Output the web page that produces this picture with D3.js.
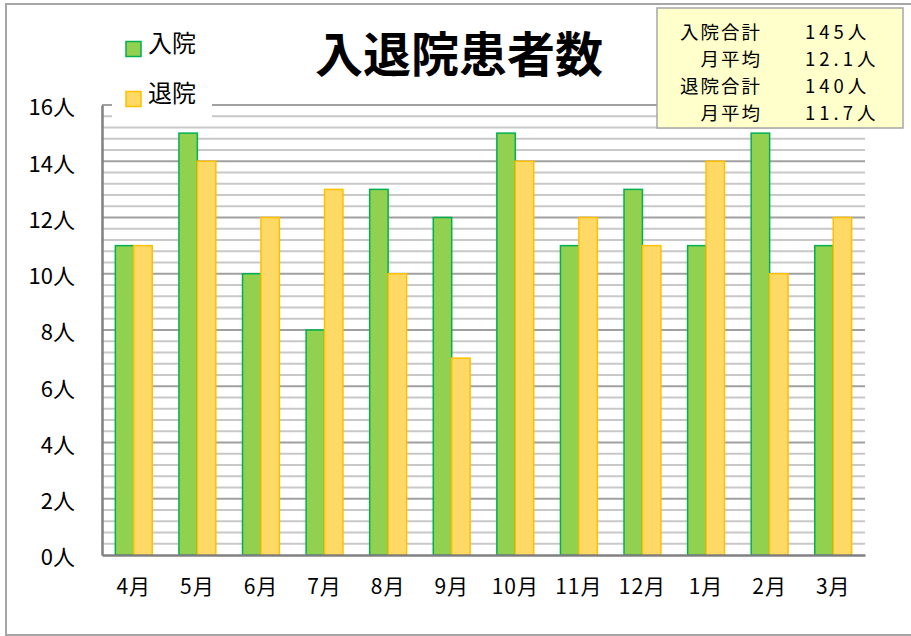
<!DOCTYPE html>
<html><head><meta charset="utf-8">
<script src="https://cdn.jsdelivr.net/npm/d3@7"></script>
<style>body{margin:0;background:#fff;} svg{display:block;}</style>
</head><body>
<svg id="c" width="911" height="636"></svg>
<script>
const months = ["4月","5月","6月","7月","8月","9月","10月","11月","12月","1月","2月","3月"];
const admissions = [11,15,10,8,13,12,15,11,13,11,15,11];
const discharges = [11,14,12,13,10,7,14,12,11,14,10,12];
const seriesNames = ["入院","退院"];
const yTicks = [0,2,4,6,8,10,12,14,16];
const summaryLabels = ["入院合計","月平均","退院合計","月平均"];
const summaryValues = ["145人","12.1人","140人","11.7人"];
const title = "入退院患者数";

(function(){
const svg = d3.select("#c");
const font = "'Noto Sans CJK JP', 'Noto Sans', sans-serif";
svg.append("rect").attr("x",6).attr("y",4).attr("width",910).attr("height",631)
  .attr("fill","#fff").attr("stroke","#a6a6a6").attr("stroke-width",2);

const pL=102,pR=865,pT=105,pB=555;
const x = d3.scaleBand().domain(months).range([pL,pR]).paddingInner(0.42).paddingOuter(0.21);
const xs = d3.scaleBand().domain(seriesNames).range([0,x.bandwidth()]);
const y = d3.scaleLinear().domain([0,16]).range([pB,pT]);

const minor = d3.range(0,16.01,0.4).filter(v=>Math.abs(v/2-Math.round(v/2))>0.01);
svg.append("g").selectAll("line").data(minor).join("line")
  .attr("x1",pL).attr("x2",pR).attr("y1",d=>y(d)).attr("y2",d=>y(d))
  .attr("stroke","#c8c8c8").attr("stroke-width",2);
svg.append("g").selectAll("line").data(yTicks.slice(1)).join("line")
  .attr("x1",pL).attr("x2",pR).attr("y1",d=>y(d)).attr("y2",d=>y(d))
  .attr("stroke","#a0a0a0").attr("stroke-width",2);

const data = months.map((m,i)=>({m, vals:[admissions[i],discharges[i]]}));
const fills=["#92d050","#ffd966"], strokes=["#00b050","#ffc000"];
const g = svg.append("g");
data.forEach(d=>{
  d.vals.forEach((v,k)=>{
    g.append("rect").attr("x",x(d.m)+xs(seriesNames[k])).attr("y",y(v))
     .attr("width",xs.bandwidth()).attr("height",y(0)-y(v))
     .attr("fill",fills[k]).attr("stroke",strokes[k]).attr("stroke-width",1.5);
  });
});

const yAxis = d3.axisLeft(y).tickValues(yTicks).tickSize(0).tickPadding(27).tickFormat(d=>d+"人");
const ya = svg.append("g").attr("transform",`translate(${pL},0)`).call(yAxis);
ya.select(".domain").attr("stroke","#808080").attr("stroke-width",2.5);
ya.selectAll("text").attr("font-family",font).attr("font-size",22).attr("fill","#000").attr("dy","0.45em");
const xAxis = d3.axisBottom(x).tickSize(0).tickPadding(24);
const xa = svg.append("g").attr("transform",`translate(0,${pB})`).call(xAxis);
xa.select(".domain").attr("stroke","#808080").attr("stroke-width",2.5);
xa.selectAll("text").attr("font-family",font).attr("font-size",21).attr("fill","#000").attr("letter-spacing","1px");

svg.append("rect").attr("x",112).attr("y",22).attr("width",100).attr("height",96).attr("fill","#fff");
seriesNames.forEach((n,k)=>{
  const ly = 49 + k*50;
  svg.append("rect").attr("x",126).attr("y",ly-7.5).attr("width",15).attr("height",15)
    .attr("fill",fills[k]).attr("stroke",strokes[k]).attr("stroke-width",1.5);
  svg.append("text").attr("x",148).attr("y",ly-5).attr("dy","0.35em")
    .attr("font-family",font).attr("font-size",24).text(n);
});

svg.append("text").attr("x",459).attr("y",55).attr("dy","0.35em").attr("text-anchor","middle")
  .attr("font-family",font).attr("font-weight","bold").attr("font-size",48).text(title);

svg.append("rect").attr("x",657).attr("y",8).attr("width",246).attr("height",120)
  .attr("fill","#ffffcc").attr("stroke","#a6a6a6").attr("stroke-width",1.5);
summaryLabels.forEach((t,i)=>{
  const ty = 33 + i*27;
  svg.append("text").attr("x",762).attr("y",ty).attr("dy","0.35em").attr("text-anchor","end")
    .attr("font-family",font).attr("font-size",18.5).attr("letter-spacing","2px").text(t);
  svg.append("text").attr("x",805).attr("y",ty).attr("dy","0.35em")
    .attr("font-family",font).attr("font-size",18.5).attr("letter-spacing","4px").text(summaryValues[i]);
});
})();
</script>
</body></html>
